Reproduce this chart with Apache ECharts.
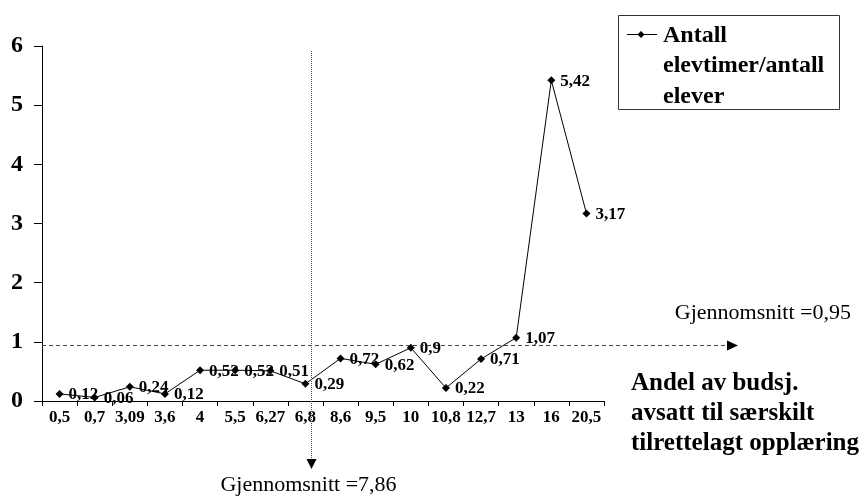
<!DOCTYPE html>
<html>
<head>
<meta charset="utf-8">
<script src="https://cdn.jsdelivr.net/npm/echarts@6/dist/echarts.min.js"></script>
<style>
  html, body { margin: 0; padding: 0; background: #fff; }
  #chart { width: 862px; height: 502px; }
</style>
</head>
<body>
<div id="chart"></div>
<script>
// Budget share set aside for special adapted education (category axis)
const categories = ['0,5', '0,7', '3,09', '3,6', '4', '5,5', '6,27', '6,8', '8,6', '9,5', '10', '10,8', '12,7', '13', '16', '20,5'];
// Pupil hours per pupil
const values = [0.12, 0.06, 0.24, 0.12, 0.52, 0.52, 0.51, 0.29, 0.72, 0.62, 0.9, 0.22, 0.71, 1.07, 5.42, 3.17];
const yTicks = [0, 1, 2, 3, 4, 5, 6];
const seriesLines = ['Antall', 'elevtimer/antall', 'elever'];
const avgHours = 0.95;
const avgHoursText = 'Gjennomsnitt =0,95';
const avgShareText = 'Gjennomsnitt =7,86';
const xTitleLines = ['Andel av budsj.', 'avsatt til særskilt', 'tilrettelagt opplæring'];

const FONT = '"Liberation Serif", "Times New Roman", serif';
const fmt = v => String(v).replace('.', ',');

const chart = echarts.init(document.getElementById('chart'));

chart.setOption({
  backgroundColor: '#fff',
  animation: false,
  grid: { left: 42, right: 258, top: 46, bottom: 101 },
  xAxis: {
    type: 'category',
    data: categories,
    boundaryGap: true,
    axisLine: { lineStyle: { color: '#000', width: 1 } },
    axisTick: { show: true, length: 5, lineStyle: { color: '#000' } },
    axisLabel: { color: '#000', fontFamily: FONT, fontWeight: 'bold', fontSize: 17, margin: 8, interval: 0 },
    splitLine: { show: false }
  },
  yAxis: {
    type: 'value',
    min: yTicks[0],
    max: yTicks[yTicks.length - 1],
    interval: 1,
    axisLine: { show: true, lineStyle: { color: '#000', width: 1 } },
    axisTick: { show: true, length: 8, lineStyle: { color: '#000' } },
    axisLabel: { color: '#000', fontFamily: FONT, fontWeight: 'bold', fontSize: 24, margin: 19 },
    splitLine: { show: false }
  },
  series: [{
    name: seriesLines.join('\n'),
    type: 'line',
    data: values,
    symbol: 'diamond',
    symbolSize: 8,
    itemStyle: { color: '#000' },
    lineStyle: { color: '#000', width: 1 },
    label: {
      show: true,
      position: 'right',
      distance: 5,
      offset: [0, 1],
      color: '#000',
      fontFamily: FONT,
      fontWeight: 'bold',
      fontSize: 17,
      formatter: p => fmt(p.value)
    }
  }]
});

// Reference lines, arrows, legend box and axis title drawn on top of the grid
const xA = chart.convertToPixel({ xAxisIndex: 0 }, 7);
const xB = chart.convertToPixel({ xAxisIndex: 0 }, 8);
const vx = Math.round(xA + 0.16 * (xB - xA)) + 0.5;
const hy = Math.round(chart.convertToPixel({ yAxisIndex: 0 }, avgHours)) + 0.5;
const gridLeft = 42;

const legendX = 618, legendY = 15;

chart.setOption({
  graphic: [
    // vertical average line with arrow
    { type: 'line', shape: { x1: vx, y1: 51, x2: vx, y2: 459 }, style: { stroke: '#444', lineWidth: 1, lineDash: [1, 1] }, z: 5 },
    { type: 'polygon', shape: { points: [[vx - 5, 459], [vx + 5, 459], [vx, 469]] }, style: { fill: '#000' }, z: 5 },
    { type: 'text', x: vx - 3, y: 485, style: { text: avgShareText, fill: '#000', font: '22px ' + FONT, align: 'center', verticalAlign: 'middle' }, z: 5 },
    // horizontal average line with arrow
    { type: 'line', shape: { x1: gridLeft, y1: hy, x2: 728, y2: hy }, style: { stroke: '#444', lineWidth: 1, lineDash: [4, 3] }, z: 5 },
    { type: 'polygon', shape: { points: [[727, hy - 5], [727, hy + 5], [738, hy]] }, style: { fill: '#000' }, z: 5 },
    { type: 'text', x: 851, y: hy - 32, style: { text: avgHoursText, fill: '#000', font: '22px ' + FONT, align: 'right', verticalAlign: 'middle' }, z: 5 },
    // x-axis title
    { type: 'text', x: 631, y: 414, style: { text: xTitleLines.join('\n'), fill: '#000', font: 'bold 25px ' + FONT, lineHeight: 30, align: 'left', verticalAlign: 'middle' }, z: 5 },
    // legend box
    { type: 'rect', shape: { x: legendX + 0.5, y: legendY + 0.5, width: 221, height: 94 }, style: { fill: '#fff', stroke: '#333', lineWidth: 1 }, z: 6 },
    { type: 'line', shape: { x1: legendX + 9, y1: legendY + 19.5, x2: legendX + 39, y2: legendY + 19.5 }, style: { stroke: '#000', lineWidth: 1 }, z: 7 },
    { type: 'polygon', shape: { points: [[legendX + 23, legendY + 16], [legendX + 26.5, legendY + 19.5], [legendX + 23, legendY + 23], [legendX + 19.5, legendY + 19.5]] }, style: { fill: '#000' }, z: 7 },
    { type: 'text', x: legendX + 45, y: legendY + 51, style: { text: seriesLines.join('\n'), fill: '#000', font: 'bold 24px ' + FONT, lineHeight: 30.5, align: 'left', verticalAlign: 'middle' }, z: 7 }
  ]
});
</script>
</body>
</html>
